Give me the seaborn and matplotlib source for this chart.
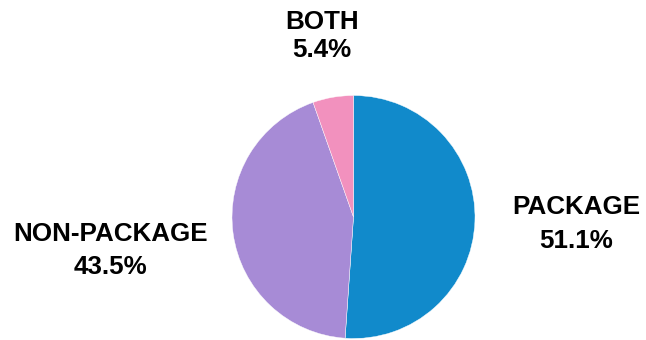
import seaborn as sns
from matplotlib import pyplot as plt

categories = ['PACKAGE', 'NON-PACKAGE', 'BOTH']
shares = [51.1, 43.5, 5.4]
colors = ['#118ACB', '#A78BD6', '#F291BE']

W, H = 646, 340

sns.set_theme(style='white')
plt.rcParams['font.family'] = ['Liberation Sans', 'DejaVu Sans']

fig = plt.figure(figsize=(W / 100, H / 100), dpi=100)
ax = fig.add_axes([0, 0, 1, 1])

# axes in pixel units (y measured from the bottom)
ax.pie(shares, colors=colors, startangle=90, counterclock=False,
       center=(353.5, H - 217), radius=121.5,
       wedgeprops={'linewidth': 0.3, 'edgecolor': 'white'}, frame=True)
ax.set_xlim(0, W)
ax.set_ylim(0, H)
ax.set_aspect('equal')
ax.axis('off')

# x centre, baseline of name, baseline of value (pixels from top)
label_pos = {'PACKAGE': (576, 214, 248),
             'NON-PACKAGE': (110.5, 241, 274),
             'BOTH': (322, 29, 57)}
for name, val in zip(categories, shares):
    x, y1, y2 = label_pos[name]
    ax.text(x, H - y1, name, ha='center', va='baseline', fontsize=18.7,
            fontweight='bold', color='black')
    ax.text(x, H - y2, f'{val}%', ha='center', va='baseline', fontsize=18.7,
            fontweight='bold', color='black')

fig.savefig('out.png', dpi=100)
